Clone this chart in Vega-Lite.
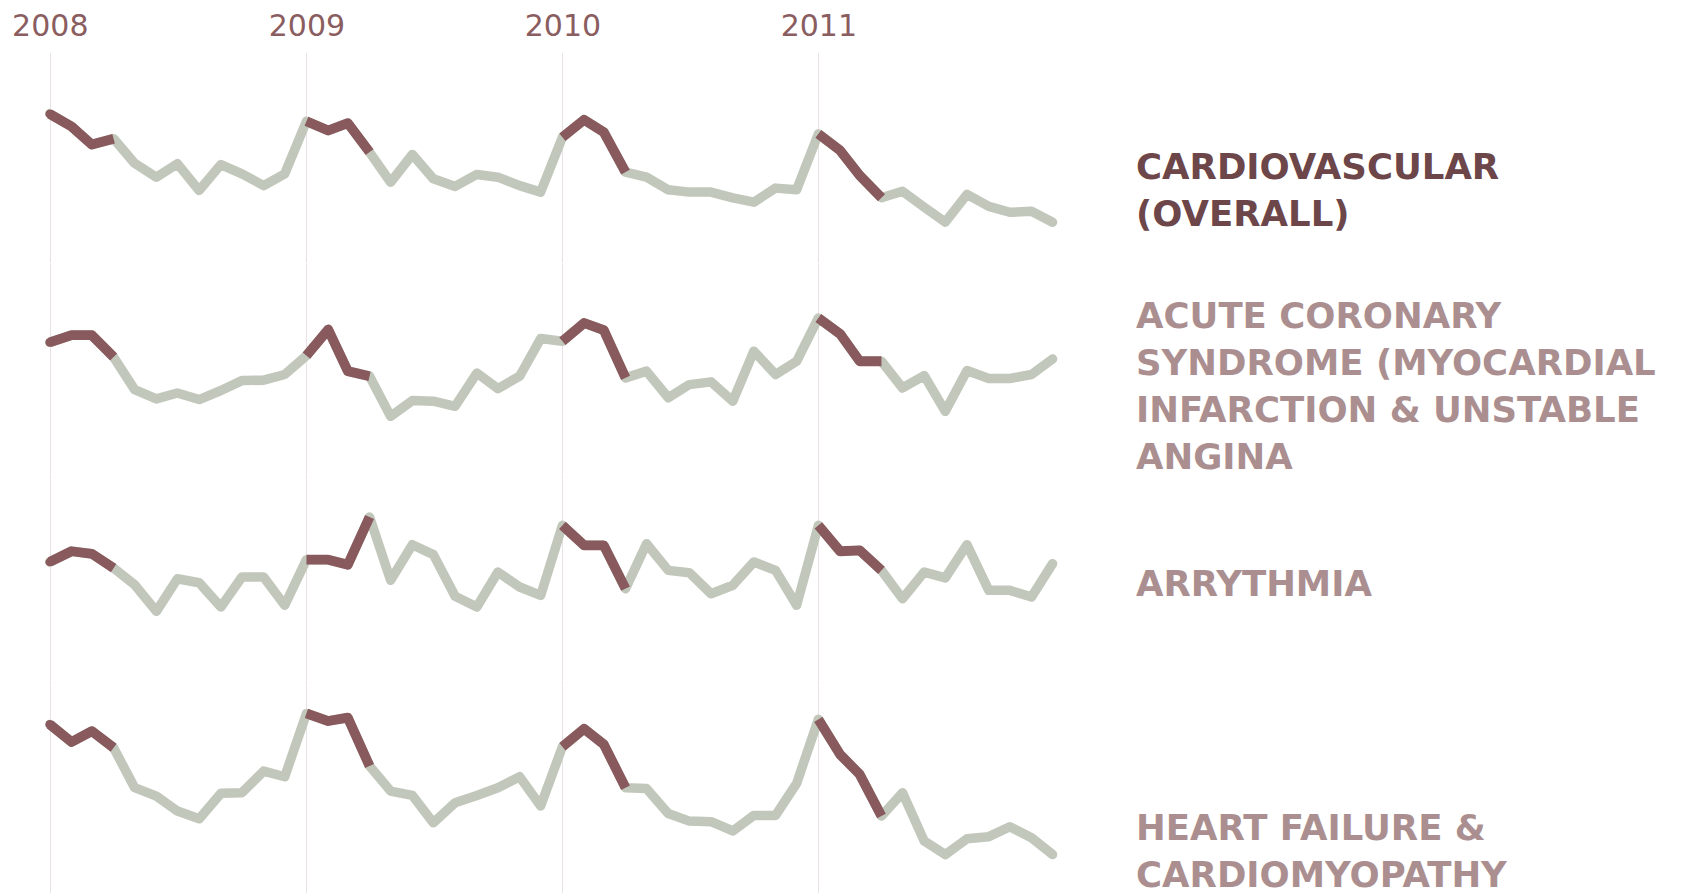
{
  "$schema": "https://vega.github.io/schema/vega-lite/v6.json",
  "background": "white",
  "padding": {"left": 0, "right": 0, "top": 10.5, "bottom": 0},
  "bounds": "flush",
  "config": {"view": {"stroke": null}},
  "datasets": {
    "rows": [
      {"series": "Cardiovascular", "month": "2008-01-01", "value": 70.8},
      {"series": "Cardiovascular", "month": "2008-02-01", "value": 64.8},
      {"series": "Cardiovascular", "month": "2008-03-01", "value": 56.2},
      {"series": "Cardiovascular", "month": "2008-04-01", "value": 59.0},
      {"series": "Cardiovascular", "month": "2008-05-01", "value": 47.3},
      {"series": "Cardiovascular", "month": "2008-06-01", "value": 40.7},
      {"series": "Cardiovascular", "month": "2008-07-01", "value": 47.1},
      {"series": "Cardiovascular", "month": "2008-08-01", "value": 34.4},
      {"series": "Cardiovascular", "month": "2008-09-01", "value": 46.7},
      {"series": "Cardiovascular", "month": "2008-10-01", "value": 42.3},
      {"series": "Cardiovascular", "month": "2008-11-01", "value": 36.7},
      {"series": "Cardiovascular", "month": "2008-12-01", "value": 42.3},
      {"series": "Cardiovascular", "month": "2009-01-01", "value": 67.3},
      {"series": "Cardiovascular", "month": "2009-02-01", "value": 62.9},
      {"series": "Cardiovascular", "month": "2009-03-01", "value": 66.4},
      {"series": "Cardiovascular", "month": "2009-04-01", "value": 52.6},
      {"series": "Cardiovascular", "month": "2009-05-01", "value": 38.3},
      {"series": "Cardiovascular", "month": "2009-06-01", "value": 51.5},
      {"series": "Cardiovascular", "month": "2009-07-01", "value": 39.9},
      {"series": "Cardiovascular", "month": "2009-08-01", "value": 36.3},
      {"series": "Cardiovascular", "month": "2009-09-01", "value": 42.0},
      {"series": "Cardiovascular", "month": "2009-10-01", "value": 40.7},
      {"series": "Cardiovascular", "month": "2009-11-01", "value": 36.7},
      {"series": "Cardiovascular", "month": "2009-12-01", "value": 33.6},
      {"series": "Cardiovascular", "month": "2010-01-01", "value": 59.7},
      {"series": "Cardiovascular", "month": "2010-02-01", "value": 68.0},
      {"series": "Cardiovascular", "month": "2010-03-01", "value": 62.1},
      {"series": "Cardiovascular", "month": "2010-04-01", "value": 43.1},
      {"series": "Cardiovascular", "month": "2010-05-01", "value": 40.7},
      {"series": "Cardiovascular", "month": "2010-06-01", "value": 34.7},
      {"series": "Cardiovascular", "month": "2010-07-01", "value": 33.6},
      {"series": "Cardiovascular", "month": "2010-08-01", "value": 33.6},
      {"series": "Cardiovascular", "month": "2010-09-01", "value": 30.9},
      {"series": "Cardiovascular", "month": "2010-10-01", "value": 28.8},
      {"series": "Cardiovascular", "month": "2010-11-01", "value": 35.5},
      {"series": "Cardiovascular", "month": "2010-12-01", "value": 34.7},
      {"series": "Cardiovascular", "month": "2011-01-01", "value": 61.3},
      {"series": "Cardiovascular", "month": "2011-02-01", "value": 53.4},
      {"series": "Cardiovascular", "month": "2011-03-01", "value": 41.5},
      {"series": "Cardiovascular", "month": "2011-04-01", "value": 30.9},
      {"series": "Cardiovascular", "month": "2011-05-01", "value": 34.0},
      {"series": "Cardiovascular", "month": "2011-06-01", "value": 26.4},
      {"series": "Cardiovascular", "month": "2011-07-01", "value": 19.3},
      {"series": "Cardiovascular", "month": "2011-08-01", "value": 32.5},
      {"series": "Cardiovascular", "month": "2011-09-01", "value": 26.8},
      {"series": "Cardiovascular", "month": "2011-10-01", "value": 24.0},
      {"series": "Cardiovascular", "month": "2011-11-01", "value": 24.5},
      {"series": "Cardiovascular", "month": "2011-12-01", "value": 19.3},
      {"series": "Acute coronary syndrome", "month": "2008-01-01", "value": 62.5},
      {"series": "Acute coronary syndrome", "month": "2008-02-01", "value": 65.9},
      {"series": "Acute coronary syndrome", "month": "2008-03-01", "value": 65.9},
      {"series": "Acute coronary syndrome", "month": "2008-04-01", "value": 55.5},
      {"series": "Acute coronary syndrome", "month": "2008-05-01", "value": 40.0},
      {"series": "Acute coronary syndrome", "month": "2008-06-01", "value": 35.6},
      {"series": "Acute coronary syndrome", "month": "2008-07-01", "value": 38.4},
      {"series": "Acute coronary syndrome", "month": "2008-08-01", "value": 35.3},
      {"series": "Acute coronary syndrome", "month": "2008-09-01", "value": 39.6},
      {"series": "Acute coronary syndrome", "month": "2008-10-01", "value": 44.3},
      {"series": "Acute coronary syndrome", "month": "2008-11-01", "value": 44.5},
      {"series": "Acute coronary syndrome", "month": "2008-12-01", "value": 47.2},
      {"series": "Acute coronary syndrome", "month": "2009-01-01", "value": 56.2},
      {"series": "Acute coronary syndrome", "month": "2009-02-01", "value": 68.6},
      {"series": "Acute coronary syndrome", "month": "2009-03-01", "value": 48.8},
      {"series": "Acute coronary syndrome", "month": "2009-04-01", "value": 46.4},
      {"series": "Acute coronary syndrome", "month": "2009-05-01", "value": 27.3},
      {"series": "Acute coronary syndrome", "month": "2009-06-01", "value": 34.8},
      {"series": "Acute coronary syndrome", "month": "2009-07-01", "value": 34.5},
      {"series": "Acute coronary syndrome", "month": "2009-08-01", "value": 32.1},
      {"series": "Acute coronary syndrome", "month": "2009-09-01", "value": 47.9},
      {"series": "Acute coronary syndrome", "month": "2009-10-01", "value": 40.5},
      {"series": "Acute coronary syndrome", "month": "2009-11-01", "value": 46.4},
      {"series": "Acute coronary syndrome", "month": "2009-12-01", "value": 64.3},
      {"series": "Acute coronary syndrome", "month": "2010-01-01", "value": 63.0},
      {"series": "Acute coronary syndrome", "month": "2010-02-01", "value": 71.7},
      {"series": "Acute coronary syndrome", "month": "2010-03-01", "value": 68.3},
      {"series": "Acute coronary syndrome", "month": "2010-04-01", "value": 45.6},
      {"series": "Acute coronary syndrome", "month": "2010-05-01", "value": 48.8},
      {"series": "Acute coronary syndrome", "month": "2010-06-01", "value": 36.1},
      {"series": "Acute coronary syndrome", "month": "2010-07-01", "value": 42.4},
      {"series": "Acute coronary syndrome", "month": "2010-08-01", "value": 43.7},
      {"series": "Acute coronary syndrome", "month": "2010-09-01", "value": 34.5},
      {"series": "Acute coronary syndrome", "month": "2010-10-01", "value": 58.3},
      {"series": "Acute coronary syndrome", "month": "2010-11-01", "value": 47.2},
      {"series": "Acute coronary syndrome", "month": "2010-12-01", "value": 53.5},
      {"series": "Acute coronary syndrome", "month": "2011-01-01", "value": 74.1},
      {"series": "Acute coronary syndrome", "month": "2011-02-01", "value": 66.5},
      {"series": "Acute coronary syndrome", "month": "2011-03-01", "value": 53.5},
      {"series": "Acute coronary syndrome", "month": "2011-04-01", "value": 53.5},
      {"series": "Acute coronary syndrome", "month": "2011-05-01", "value": 40.8},
      {"series": "Acute coronary syndrome", "month": "2011-06-01", "value": 46.7},
      {"series": "Acute coronary syndrome", "month": "2011-07-01", "value": 29.7},
      {"series": "Acute coronary syndrome", "month": "2011-08-01", "value": 49.1},
      {"series": "Acute coronary syndrome", "month": "2011-09-01", "value": 45.3},
      {"series": "Acute coronary syndrome", "month": "2011-10-01", "value": 45.3},
      {"series": "Acute coronary syndrome", "month": "2011-11-01", "value": 47.2},
      {"series": "Acute coronary syndrome", "month": "2011-12-01", "value": 54.6},
      {"series": "Arrythmia", "month": "2008-01-01", "value": 58.4},
      {"series": "Arrythmia", "month": "2008-02-01", "value": 63.5},
      {"series": "Arrythmia", "month": "2008-03-01", "value": 62.3},
      {"series": "Arrythmia", "month": "2008-04-01", "value": 55.5},
      {"series": "Arrythmia", "month": "2008-05-01", "value": 47.6},
      {"series": "Arrythmia", "month": "2008-06-01", "value": 34.9},
      {"series": "Arrythmia", "month": "2008-07-01", "value": 50.4},
      {"series": "Arrythmia", "month": "2008-08-01", "value": 48.5},
      {"series": "Arrythmia", "month": "2008-09-01", "value": 37.0},
      {"series": "Arrythmia", "month": "2008-10-01", "value": 51.2},
      {"series": "Arrythmia", "month": "2008-11-01", "value": 51.2},
      {"series": "Arrythmia", "month": "2008-12-01", "value": 37.8},
      {"series": "Arrythmia", "month": "2009-01-01", "value": 59.5},
      {"series": "Arrythmia", "month": "2009-02-01", "value": 59.5},
      {"series": "Arrythmia", "month": "2009-03-01", "value": 57.1},
      {"series": "Arrythmia", "month": "2009-04-01", "value": 79.8},
      {"series": "Arrythmia", "month": "2009-05-01", "value": 49.7},
      {"series": "Arrythmia", "month": "2009-06-01", "value": 66.6},
      {"series": "Arrythmia", "month": "2009-07-01", "value": 61.9},
      {"series": "Arrythmia", "month": "2009-08-01", "value": 42.1},
      {"series": "Arrythmia", "month": "2009-09-01", "value": 37.0},
      {"series": "Arrythmia", "month": "2009-10-01", "value": 53.6},
      {"series": "Arrythmia", "month": "2009-11-01", "value": 46.5},
      {"series": "Arrythmia", "month": "2009-12-01", "value": 42.5},
      {"series": "Arrythmia", "month": "2010-01-01", "value": 75.8},
      {"series": "Arrythmia", "month": "2010-02-01", "value": 66.3},
      {"series": "Arrythmia", "month": "2010-03-01", "value": 66.3},
      {"series": "Arrythmia", "month": "2010-04-01", "value": 45.7},
      {"series": "Arrythmia", "month": "2010-05-01", "value": 67.1},
      {"series": "Arrythmia", "month": "2010-06-01", "value": 54.4},
      {"series": "Arrythmia", "month": "2010-07-01", "value": 53.3},
      {"series": "Arrythmia", "month": "2010-08-01", "value": 43.3},
      {"series": "Arrythmia", "month": "2010-09-01", "value": 47.3},
      {"series": "Arrythmia", "month": "2010-10-01", "value": 58.4},
      {"series": "Arrythmia", "month": "2010-11-01", "value": 54.4},
      {"series": "Arrythmia", "month": "2010-12-01", "value": 37.8},
      {"series": "Arrythmia", "month": "2011-01-01", "value": 75.8},
      {"series": "Arrythmia", "month": "2011-02-01", "value": 63.5},
      {"series": "Arrythmia", "month": "2011-03-01", "value": 63.9},
      {"series": "Arrythmia", "month": "2011-04-01", "value": 54.4},
      {"series": "Arrythmia", "month": "2011-05-01", "value": 40.9},
      {"series": "Arrythmia", "month": "2011-06-01", "value": 53.6},
      {"series": "Arrythmia", "month": "2011-07-01", "value": 50.8},
      {"series": "Arrythmia", "month": "2011-08-01", "value": 66.6},
      {"series": "Arrythmia", "month": "2011-09-01", "value": 44.9},
      {"series": "Arrythmia", "month": "2011-10-01", "value": 44.9},
      {"series": "Arrythmia", "month": "2011-11-01", "value": 41.7},
      {"series": "Arrythmia", "month": "2011-12-01", "value": 57.6},
      {"series": "Heart failure", "month": "2008-01-01", "value": 81.5},
      {"series": "Heart failure", "month": "2008-02-01", "value": 73.1},
      {"series": "Heart failure", "month": "2008-03-01", "value": 78.3},
      {"series": "Heart failure", "month": "2008-04-01", "value": 70.4},
      {"series": "Heart failure", "month": "2008-05-01", "value": 51.4},
      {"series": "Heart failure", "month": "2008-06-01", "value": 47.4},
      {"series": "Heart failure", "month": "2008-07-01", "value": 40.3},
      {"series": "Heart failure", "month": "2008-08-01", "value": 36.6},
      {"series": "Heart failure", "month": "2008-09-01", "value": 48.7},
      {"series": "Heart failure", "month": "2008-10-01", "value": 49.0},
      {"series": "Heart failure", "month": "2008-11-01", "value": 59.3},
      {"series": "Heart failure", "month": "2008-12-01", "value": 56.6},
      {"series": "Heart failure", "month": "2009-01-01", "value": 86.7},
      {"series": "Heart failure", "month": "2009-02-01", "value": 83.1},
      {"series": "Heart failure", "month": "2009-03-01", "value": 84.7},
      {"series": "Heart failure", "month": "2009-04-01", "value": 61.7},
      {"series": "Heart failure", "month": "2009-05-01", "value": 49.8},
      {"series": "Heart failure", "month": "2009-06-01", "value": 47.7},
      {"series": "Heart failure", "month": "2009-07-01", "value": 34.7},
      {"series": "Heart failure", "month": "2009-08-01", "value": 44.2},
      {"series": "Heart failure", "month": "2009-09-01", "value": 47.7},
      {"series": "Heart failure", "month": "2009-10-01", "value": 51.4},
      {"series": "Heart failure", "month": "2009-11-01", "value": 56.6},
      {"series": "Heart failure", "month": "2009-12-01", "value": 42.7},
      {"series": "Heart failure", "month": "2010-01-01", "value": 70.9},
      {"series": "Heart failure", "month": "2010-02-01", "value": 79.4},
      {"series": "Heart failure", "month": "2010-03-01", "value": 72.0},
      {"series": "Heart failure", "month": "2010-04-01", "value": 51.4},
      {"series": "Heart failure", "month": "2010-05-01", "value": 51.0},
      {"series": "Heart failure", "month": "2010-06-01", "value": 39.1},
      {"series": "Heart failure", "month": "2010-07-01", "value": 35.5},
      {"series": "Heart failure", "month": "2010-08-01", "value": 35.2},
      {"series": "Heart failure", "month": "2010-09-01", "value": 30.8},
      {"series": "Heart failure", "month": "2010-10-01", "value": 38.2},
      {"series": "Heart failure", "month": "2010-11-01", "value": 38.2},
      {"series": "Heart failure", "month": "2010-12-01", "value": 53.4},
      {"series": "Heart failure", "month": "2011-01-01", "value": 83.9},
      {"series": "Heart failure", "month": "2011-02-01", "value": 67.2},
      {"series": "Heart failure", "month": "2011-03-01", "value": 57.7},
      {"series": "Heart failure", "month": "2011-04-01", "value": 37.9},
      {"series": "Heart failure", "month": "2011-05-01", "value": 49.0},
      {"series": "Heart failure", "month": "2011-06-01", "value": 26.0},
      {"series": "Heart failure", "month": "2011-07-01", "value": 19.6},
      {"series": "Heart failure", "month": "2011-08-01", "value": 27.1},
      {"series": "Heart failure", "month": "2011-09-01", "value": 28.1},
      {"series": "Heart failure", "month": "2011-10-01", "value": 32.8},
      {"series": "Heart failure", "month": "2011-11-01", "value": 27.6},
      {"series": "Heart failure", "month": "2011-12-01", "value": 19.6},
      {"series": "Cardiovascular", "month": "2012-03-29", "value": 39.7, "label": "CARDIOVASCULAR\n(OVERALL)"},
      {"series": "Acute coronary syndrome", "month": "2012-03-29", "value": 69.3, "label": "ACUTE CORONARY\nSYNDROME (MYOCARDIAL\nINFARCTION & UNSTABLE\nANGINA"},
      {"series": "Arrythmia", "month": "2012-03-29", "value": 42.2, "label": "ARRYTHMIA"},
      {"series": "Heart failure", "month": "2012-03-29", "value": 26.3, "label": "HEART FAILURE &\nCARDIOMYOPATHY"}
    ]
  },
  "data": {"name": "rows"},
  "facet": {
    "row": {
      "field": "series",
      "type": "nominal",
      "title": null,
      "sort": ["Cardiovascular", "Acute coronary syndrome", "Arrythmia", "Heart failure"],
      "header": {"labels": false, "title": null, "labelPadding": 0, "titlePadding": 0}
    }
  },
  "spacing": 0,
  "spec": {
    "width": 1683,
    "height": 210.25,
    "encoding": {
      "x": {
        "field": "month",
        "type": "temporal",
        "scale": {
          "type": "utc",
          "domain": [
            {"year": 2007, "month": 10, "date": 22, "utc": true},
            {"year": 2014, "month": 5, "date": 18, "utc": true}
          ]
        },
        "axis": {
          "orient": "top",
          "title": null,
          "values": [
            {"year": 2008, "month": 1, "date": 1, "utc": true},
            {"year": 2009, "month": 1, "date": 1, "utc": true},
            {"year": 2010, "month": 1, "date": 1, "utc": true},
            {"year": 2011, "month": 1, "date": 1, "utc": true}
          ],
          "format": "%Y",
          "ticks": false,
          "tickSize": 0,
          "domain": false,
          "grid": true,
          "gridColor": "#e9e1e3",
          "gridWidth": 1,
          "labelFont": "DejaVu Sans",
          "labelFontSize": 30,
          "labelColor": "#8a5d60",
          "labelPadding": 26.5,
          "labelBaseline": "middle",
          "labelAlign": "center",
          "labelFlush": false,
          "labelOverlap": false
        }
      },
      "y": {
        "field": "value",
        "type": "quantitative",
        "scale": {"domain": [0, 100], "nice": false, "zero": false},
        "axis": null
      }
    },
    "layer": [
      {
        "transform": [{"filter": "!datum.label"}],
        "mark": {"type": "line", "color": "#c1c8bb", "strokeWidth": 9.5, "strokeCap": "round", "strokeJoin": "round"}
      },
      {
        "transform": [{"filter": "!datum.label && utcmonth(datum.month) <= 3"}],
        "mark": {"type": "line", "color": "#885a5d", "strokeWidth": 9.8, "strokeCap": "butt", "strokeJoin": "round"},
        "encoding": {"detail": {"field": "month", "timeUnit": "utcyear", "type": "ordinal"}}
      },
      {
        "transform": [{"filter": "!datum.label && utcyear(datum.month) == 2008 && utcmonth(datum.month) == 0"}],
        "mark": {"type": "circle", "color": "#885a5d", "size": 75, "opacity": 1}
      },
      {
        "transform": [{"filter": "datum.label"}],
        "mark": {"type": "text", "align": "left", "baseline": "alphabetic", "lineBreak": "\n", "lineHeight": 47, "font": "DejaVu Sans", "fontWeight": "bold", "fontSize": 35.5},
        "encoding": {
          "text": {"field": "label", "type": "nominal"},
          "color": {
            "field": "series",
            "type": "nominal",
            "scale": {
              "domain": ["Cardiovascular", "Acute coronary syndrome", "Arrythmia", "Heart failure"],
              "range": ["#6c4649", "#ab8f90", "#ab8f90", "#ab8f90"]
            },
            "legend": null
          }
        }
      }
    ]
  }
}
